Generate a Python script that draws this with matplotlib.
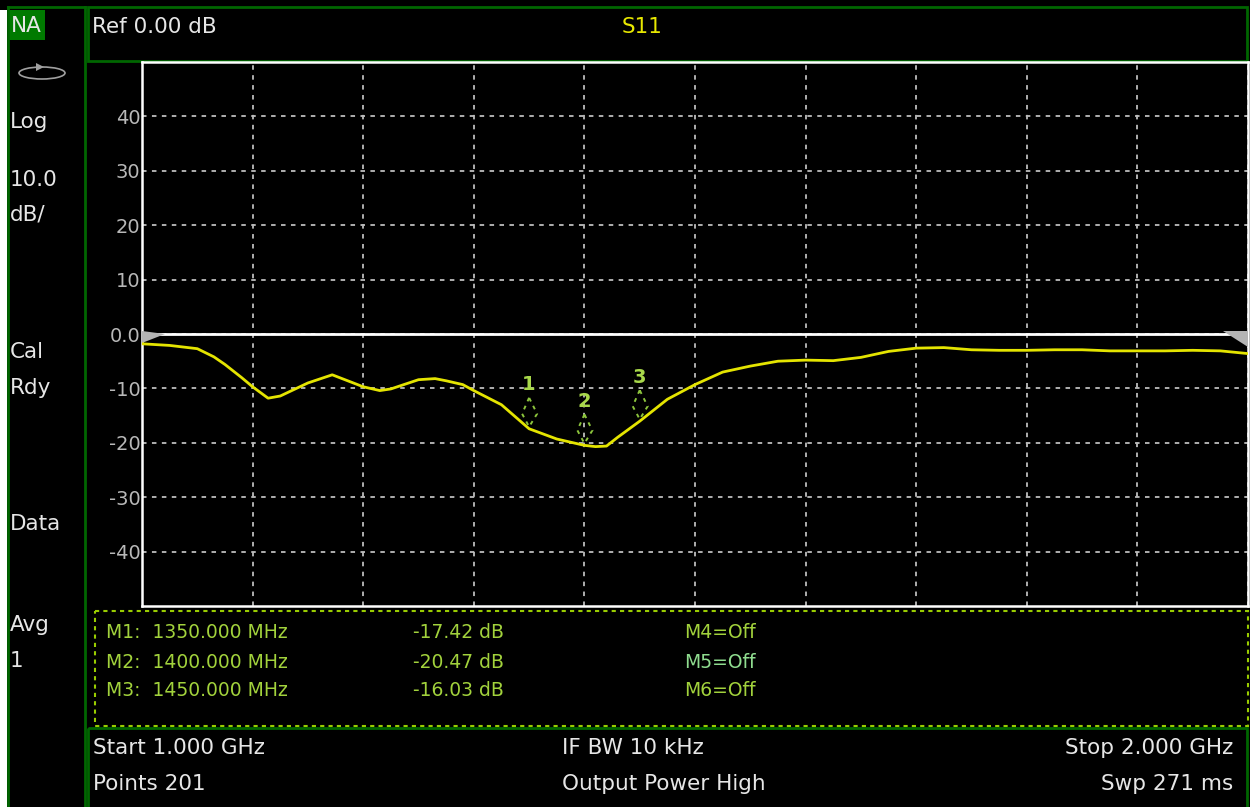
import matplotlib
matplotlib.use("Agg")
import matplotlib.pyplot as plt
from matplotlib.patches import Rectangle, Polygon, Ellipse
from matplotlib.transforms import Affine2D, ScaledTranslation

# ---------------- data ----------------
freq_ghz = [1.000, 1.025, 1.050, 1.065, 1.075, 1.090, 1.100, 1.114, 1.125, 1.150, 1.172, 1.200,
            1.215, 1.225, 1.250, 1.265, 1.275, 1.290, 1.300, 1.325, 1.350, 1.375,
            1.400, 1.410, 1.420, 1.430, 1.450, 1.475, 1.500, 1.525, 1.550, 1.575,
            1.600, 1.625, 1.650, 1.675, 1.700, 1.725, 1.750, 1.775, 1.800, 1.825,
            1.850, 1.875, 1.900, 1.925, 1.950, 1.975, 2.000]
s11_db = [-1.8, -2.1, -2.7, -4.2, -5.6, -8.0, -9.7, -11.8, -11.4, -9.0, -7.5, -9.7,
          -10.4, -10.1, -8.4, -8.2, -8.6, -9.3, -10.4, -13.0, -17.42, -19.3,
          -20.47, -20.7, -20.6, -19.0, -16.03, -12.0, -9.3, -7.0, -5.9, -5.0,
          -4.8, -4.9, -4.3, -3.2, -2.6, -2.5, -2.9, -3.0, -3.0, -2.9,
          -2.9, -3.1, -3.1, -3.1, -3.0, -3.1, -3.6]

marker_ids = ["1", "2", "3"]
marker_freq_mhz = [1350.0, 1400.0, 1450.0]
marker_db = [-17.42, -20.47, -16.03]
off_markers = ["M4=Off", "M5=Off", "M6=Off"]

ref_level = 0.0
scale_db = 10.0
y_ticks = [40, 30, 20, 10, 0, -10, -20, -30, -40]
y_tick_labels = ["40", "30", "20", "10", "0.0", "-10", "-20", "-30", "-40"]
start_ghz, stop_ghz = 1.0, 2.0

# ---------------- figure ----------------
W, H = 1250, 807
fig = plt.figure(figsize=(W / 100, H / 100), dpi=100, facecolor="black")
plt.rcParams["font.family"] = ["DejaVu Sans"]

bg = fig.add_axes([0, 0, 1, 1], zorder=0)
bg.set_xlim(0, W)
bg.set_ylim(H, 0)
bg.axis("off")
bg.add_patch(Rectangle((0, 0), W, H, facecolor="black", edgecolor="none"))
bg.add_patch(Rectangle((0, 10), 7, H, facecolor="white", edgecolor="none"))

green = "#006600"
# left panel borders
bg.plot([8, 8], [7, H], color=green, lw=2)
bg.plot([85, 85], [7, H], color=green, lw=2)
bg.plot([8, 85], [7, 7], color=green, lw=2)
# header box
bg.add_patch(Rectangle((88, 7), 1159, 54, facecolor="none", edgecolor=green, lw=2))
# bottom box
bg.add_patch(Rectangle((88, 728), 1159, 90, facecolor="none", edgecolor=green, lw=2))
# marker box (dotted)
bg.add_patch(Rectangle((95, 611), 1153, 115, facecolor="none", edgecolor="#99cc00",
                       lw=1.5, linestyle=(0, (2, 2))))

# NA badge
bg.add_patch(Rectangle((9, 10), 36, 30, facecolor="#007a00", edgecolor="none"))
txt_kw = dict(color="#e6e6e6", fontsize=15.5, va="center")
bg.text(11, 26, "NA", **txt_kw)
# sweep icon
bg.add_patch(Ellipse((42, 73), 46, 12, facecolor="none", edgecolor="#a0a0a0", lw=1.2))
bg.add_patch(Polygon([[36, 63], [44, 67], [36, 71]], closed=True, facecolor="#a0a0a0",
                     edgecolor="none"))

for label, y in [("Log", 122), ("10.0", 180), ("dB/", 214), ("Cal", 352), ("Rdy", 388),
                 ("Data", 524), ("Avg", 625), ("1", 661)]:
    bg.text(10, y, label, **txt_kw)

# header texts
bg.text(92, 27, f"Ref {ref_level:.2f} dB", **txt_kw)
bg.text(622, 27, "S11", color="#e8e800", fontsize=15.5, va="center")

# bottom texts
bg.text(93, 748, f"Start {start_ghz:.3f} GHz", **txt_kw)
bg.text(93, 784, "Points 201", **txt_kw)
bg.text(562, 748, "IF BW 10 kHz", **txt_kw)
bg.text(562, 784, "Output Power High", **txt_kw)
bg.text(1233, 748, f"Stop {stop_ghz:.3f} GHz", ha="right", **txt_kw)
bg.text(1233, 784, "Swp 271 ms", ha="right", **txt_kw)

# marker table
mk_color = "#a2d23c"
row_y = [633, 662, 691]
for i in range(3):
    bg.text(106, row_y[i], f"M{i+1}:  {marker_freq_mhz[i]:.3f} MHz", color=mk_color,
            fontsize=13.5, va="center")
    bg.text(413, row_y[i], f"{marker_db[i]:.2f} dB", color=mk_color, fontsize=13.5, va="center")
    bg.text(684, row_y[i], off_markers[i], color="#8fdc8f" if i == 1 else mk_color,
            fontsize=13.5, va="center")

# ---------------- plot area ----------------
ax = fig.add_axes([142 / W, (H - 606) / H, 1106 / W, 544 / H], zorder=2)
ax.set_facecolor("black")
ax.set_xlim(start_ghz, stop_ghz)
ax.set_ylim(ref_level - 5 * scale_db, ref_level + 5 * scale_db)
ax.set_xticks([start_ghz + 0.1 * k for k in range(11)])
ax.set_xticklabels([])
ax.set_yticks(y_ticks)
ax.set_yticklabels(y_tick_labels)
ax.tick_params(axis="both", length=0, colors="#b8b8b8", labelsize=14, pad=1)
ax.grid(True, color="#bdbdbd", linestyle=(0, (2.5, 3)), lw=1.3)
for sp in ax.spines.values():
    sp.set_color("white")
    sp.set_linewidth(1.8)

# reference line and arrows
ax.axhline(ref_level, color="white", lw=2, zorder=3)
tri_l = Polygon([[0, 3], [23, 0], [0, -9]], closed=True, facecolor="#b4b4b4", edgecolor="none",
                transform=Affine2D() + ScaledTranslation(start_ghz, ref_level, ax.transData),
                zorder=4, clip_on=False)
tri_r = Polygon([[-25, 3], [0, 3], [0, -13]], closed=True, facecolor="#b4b4b4", edgecolor="none",
                transform=Affine2D() + ScaledTranslation(stop_ghz, ref_level, ax.transData),
                zorder=4, clip_on=False)
ax.add_patch(tri_l)
ax.add_patch(tri_r)

# trace
ax.plot(freq_ghz, s11_db, color="#e4e400", lw=2, zorder=5)

# marker glyphs
for mid, fm, v in zip(marker_ids, marker_freq_mhz, marker_db):
    f = fm / 1000.0
    tr = Affine2D() + ScaledTranslation(f, v, ax.transData)
    ax.add_patch(Polygon([[0, 31], [-7, 15], [0, 2], [8, 15]], closed=True, facecolor="none",
                         edgecolor="#8cc43c", lw=1.4, linestyle=(0, (2, 2.5)), transform=tr,
                         zorder=6))
    ax.annotate(mid, (f, v), xytext=(0, 44), textcoords="offset pixels", ha="center",
                va="center", color="#a8d84a", fontsize=14, fontweight="bold", zorder=7)

fig.savefig("out.png", dpi=100, facecolor="black")
